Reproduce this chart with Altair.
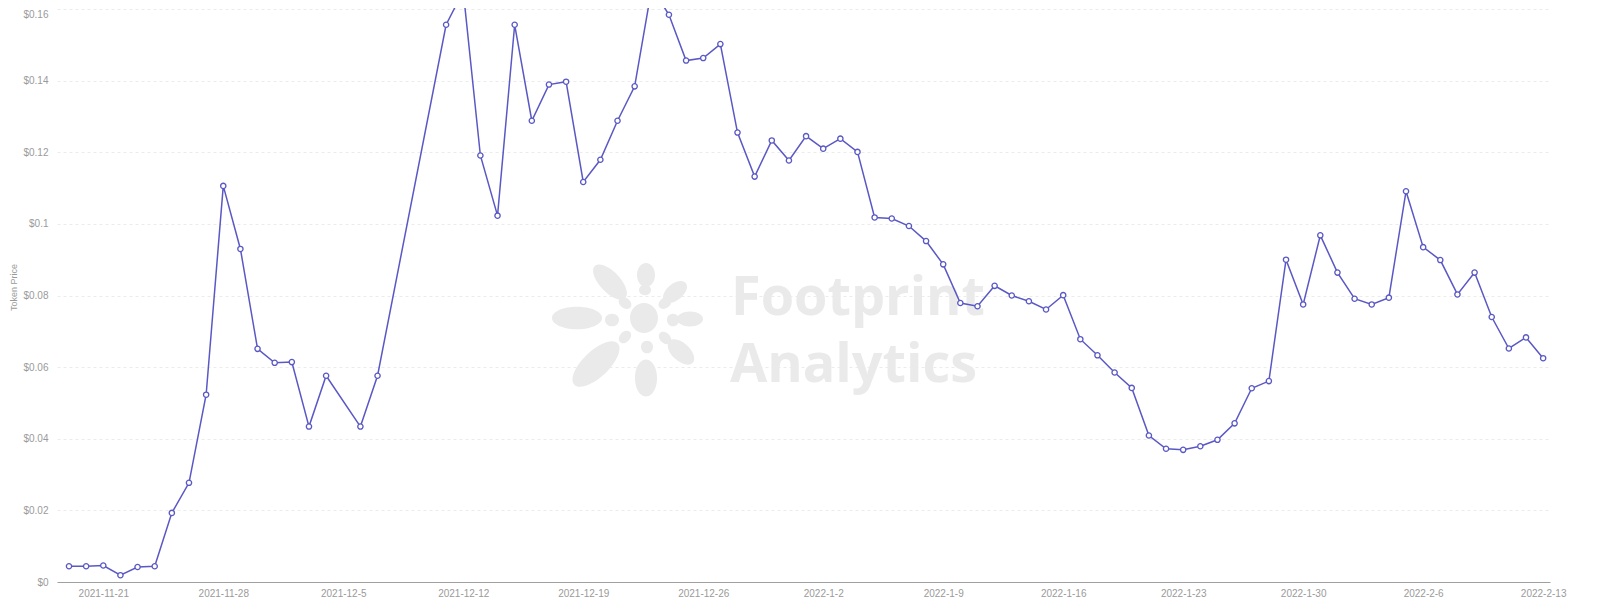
import math
import altair as alt
import pandas as pd

# ---- data ----
dates = [
    "2021-11-19", "2021-11-20", "2021-11-21", "2021-11-22", "2021-11-23", "2021-11-24",
    "2021-11-25", "2021-11-26", "2021-11-27", "2021-11-28", "2021-11-29", "2021-11-30",
    "2021-12-01", "2021-12-02", "2021-12-03", "2021-12-04", "2021-12-06", "2021-12-07",
    "2021-12-11", "2021-12-12", "2021-12-13", "2021-12-14", "2021-12-15", "2021-12-16",
    "2021-12-17", "2021-12-18", "2021-12-19", "2021-12-20", "2021-12-21", "2021-12-22",
    "2021-12-23", "2021-12-24", "2021-12-25", "2021-12-26", "2021-12-27", "2021-12-28",
    "2021-12-29", "2021-12-30", "2021-12-31", "2022-01-01", "2022-01-02", "2022-01-03",
    "2022-01-04", "2022-01-05", "2022-01-06", "2022-01-07", "2022-01-08", "2022-01-09",
    "2022-01-10", "2022-01-11", "2022-01-12", "2022-01-13", "2022-01-14", "2022-01-15",
    "2022-01-16", "2022-01-17", "2022-01-18", "2022-01-19", "2022-01-20", "2022-01-21",
    "2022-01-22", "2022-01-23", "2022-01-24", "2022-01-25", "2022-01-26", "2022-01-27",
    "2022-01-28", "2022-01-29", "2022-01-30", "2022-01-31", "2022-02-01", "2022-02-02",
    "2022-02-03", "2022-02-04", "2022-02-05", "2022-02-06", "2022-02-07", "2022-02-08",
    "2022-02-09", "2022-02-10", "2022-02-11", "2022-02-12", "2022-02-13",
]
prices = [
    0.0044, 0.0044, 0.0046, 0.0019, 0.0042, 0.0044,
    0.0193, 0.0277, 0.0523, 0.1106, 0.0930, 0.0651,
    0.0612, 0.0614, 0.0434, 0.0576, 0.0434, 0.0576,
    0.1556, 0.1650, 0.1191, 0.1023, 0.1556, 0.1288,
    0.1389, 0.1397, 0.1117, 0.1179, 0.1288, 0.1384,
    0.1660, 0.1584, 0.1456, 0.1463, 0.1502, 0.1255,
    0.1132, 0.1233, 0.1177, 0.1245, 0.1210, 0.1238,
    0.1201, 0.1018, 0.1015, 0.0994, 0.0952, 0.0887,
    0.0779, 0.0770, 0.0827, 0.0800, 0.0784, 0.0761,
    0.0801, 0.0678, 0.0633, 0.0585, 0.0542, 0.0409,
    0.0372, 0.0369, 0.0379, 0.0397, 0.0443, 0.0541,
    0.0561, 0.0900, 0.0775, 0.0968, 0.0864, 0.0791,
    0.0775, 0.0794, 0.1091, 0.0935, 0.0899, 0.0803,
    0.0864, 0.0740, 0.0652, 0.0683, 0.0625,
]
tick_dates = [
    "2021-11-21", "2021-11-28", "2021-12-05", "2021-12-12", "2021-12-19",
    "2021-12-26", "2022-01-02", "2022-01-09", "2022-01-16", "2022-01-23",
    "2022-01-30", "2022-02-06", "2022-02-13",
]
y_ticks = [0, 0.02, 0.04, 0.06, 0.08, 0.10, 0.12, 0.14, 0.16]
y_title = "Token Price"
watermark = ["Footprint", "Analytics"]

df = pd.DataFrame({"date": dates, "price": prices})


def ms(s, shift_days=0.0):
    return int((pd.Timestamp(s) + pd.Timedelta(days=shift_days)).value // 10**6)


x_domain = [ms(dates[0], -0.7), ms(dates[-1], 0.4)]
x_vals = [ms(d) for d in tick_dates]

LINE = "#5a58c4"
GRAY = "#9a9a9a"
WM = "#eaeaeb"
W, H = 1493, 574
PL, PT = 57, 8  # plot origin on the page

x_enc = alt.X(
    "date:T",
    scale=alt.Scale(type="utc", domain=x_domain, nice=False),
    axis=alt.Axis(
        values=x_vals,
        labelExpr="utcFormat(datum.value, '%Y-%-m-%-d')",
        title=None,
        grid=False,
        ticks=False,
        domainColor="#a0a0a0",
        domainWidth=1,
        labelColor=GRAY,
        labelFontSize=10,
        labelFont="Liberation Sans",
        labelPadding=6,
        labelOverlap=False,
        labelFlush=False,
    ),
)
y_enc = alt.Y(
    "price:Q",
    scale=alt.Scale(domain=[0, 0.16028], nice=False, zero=True),
    axis=alt.Axis(
        values=y_ticks,
        labelExpr="'$' + format(datum.value, '.2~f')",
        labelBaseline=alt.condition("datum.value >= 0.159", alt.value("top"), alt.value("middle")),
        title=y_title,
        grid=True,
        gridDash=[3, 3],
        gridColor="#ebebeb",
        domain=False,
        ticks=False,
        labelColor=GRAY,
        labelFontSize=10,
        labelFont="Liberation Sans",
        labelPadding=9,
        titleFontSize=9,
        titleFont="Liberation Sans",
        titleFontWeight="normal",
        titleColor=GRAY,
        titleX=-44,
        titleY=279,
        titleAngle=270,
        titleAlign="center",
        titleBaseline="middle",
    ),
)

# ---- watermark (decoration) ----
def ellipse(cx, cy, rx, ry, ang):
    c, s = math.cos(ang), math.sin(ang)
    x1, y1 = cx - rx * c, cy - rx * s
    x2, y2 = cx + rx * c, cy + rx * s
    deg = math.degrees(ang)
    return (f"M{x1:.4f},{y1:.4f}A{rx:.4f},{ry:.4f} {deg:.2f} 1,0 {x2:.4f},{y2:.4f}"
            f"A{rx:.4f},{ry:.4f} {deg:.2f} 1,0 {x1:.4f},{y1:.4f}Z")


R = 95.0
petals = [
    (0, 0, 14, 15, 0),
    (-67, 0, 25, 11, 0),
    (2, -43, 9, 12, 0),
    (-34, -36, 22, 10, math.atan2(-36, -34)),
    (31, -26, 14, 8, math.atan2(-26, 31)),
    (46, 1, 13, 7.5, 0),
    (37, 34, 16, 9, math.atan2(34, 37)),
    (2, 60, 11, 18, 0),
    (-48, 46, 30, 13, math.atan2(46, -48)),
    (-19, -15, 7, 5, math.atan2(-15, -19)),
    (1, -28, 6, 5, 0),
    (21, -15, 7, 5, math.atan2(-15, 21)),
    (-32, 2, 7, 6, 0),
    (29, 2, 6, 6, 0),
    (-19, 19, 7, 5, math.atan2(19, -19)),
    (3, 29, 6, 6, 0),
    (21, 20, 7, 5, math.atan2(20, 21)),
]
path = "".join(ellipse(px / R, py / R, rx / R, ry / R, an) for px, py, rx, ry, an in petals)

one = pd.DataFrame({"k": [0]})
flower = alt.Chart(one).mark_point(
    shape=path, filled=True, fill=WM, stroke=None, size=(2 * R) ** 2, opacity=1
).encode(x=alt.value(644 - PL), y=alt.value(318 - PT))

wm1 = alt.Chart(one).mark_text(
    text=watermark[0], font="Open Sans", fontWeight="bold", fontSize=54,
    color=WM, align="left", baseline="alphabetic"
).encode(x=alt.value(731 - PL), y=alt.value(315 - PT))
wm2 = alt.Chart(one).mark_text(
    text=watermark[1], font="Open Sans", fontWeight="bold", fontSize=54,
    color=WM, align="left", baseline="alphabetic"
).encode(x=alt.value(730 - PL), y=alt.value(382 - PT))

base = alt.Chart(df).encode(x=x_enc, y=y_enc)
line = base.mark_line(color=LINE, strokeWidth=1.5, clip=True)
pts = base.mark_point(
    shape="circle", filled=True, fill="white", stroke=LINE, strokeWidth=1.3,
    size=28, opacity=1, clip=True
)

chart = (
    alt.layer(flower, wm1, wm2, line, pts)
    .properties(
        width=W,
        height=H,
        padding={"left": 49, "top": 0, "right": 30, "bottom": 26},
        autosize=alt.AutoSizeParams(type="none"),
        background="white",
    )
    .configure_view(stroke=None)
)

chart.save("out.html", embed_options={"renderer": "svg", "actions": False})
